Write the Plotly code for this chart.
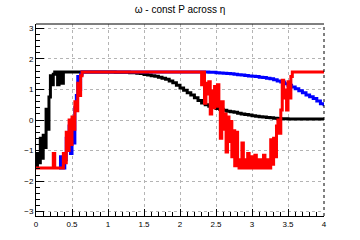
import plotly.graph_objects as go

# ---- data (bin left edges / values) ----
black_x = [0.00, 0.02, 0.04, 0.06, 0.08, 0.10, 0.12, 0.14, 0.16, 0.18, 0.20, 0.22, 0.24, 0.26,
           0.28, 0.30, 0.32, 0.36, 0.38,
           1.00, 1.10, 1.20, 1.30, 1.40, 1.45, 1.50, 1.55, 1.60, 1.65, 1.70, 1.75, 1.80, 1.85,
           1.90, 1.95, 2.00, 2.05, 2.10, 2.15, 2.20, 2.25, 2.30, 2.35, 2.40, 2.45, 2.50, 2.55,
           2.60, 2.65, 2.70, 2.75, 2.80, 2.85, 2.90, 2.95, 3.00, 3.05, 3.10, 3.15, 3.20, 3.25,
           3.30, 3.35, 3.40, 3.50, 4.00]
black_y = [-1.50, -1.10, -1.40, -0.60, -1.25, -0.50, -0.90, 0.35, -0.30, 0.75, 1.45, 1.15, 1.50, 1.57,
           1.5708, 1.15, 1.5708, 1.20, 1.5708,
           1.5708, 1.565, 1.56, 1.55, 1.53, 1.52, 1.49, 1.47, 1.45, 1.43, 1.40, 1.37, 1.33, 1.28,
           1.22, 1.14, 1.05, 0.97, 0.89, 0.82, 0.73, 0.64, 0.56, 0.50, 0.45, 0.41, 0.38, 0.35,
           0.32, 0.29, 0.27, 0.25, 0.22, 0.20, 0.18, 0.16, 0.14, 0.12, 0.11, 0.095, 0.085, 0.075,
           0.06, 0.05, 0.04, 0.035, 0.035]

blue_x = [0.32, 0.34, 0.36, 0.40, 0.42, 0.44, 0.46, 0.48, 0.50, 0.52, 0.54, 0.56, 0.58, 0.60,
          0.62, 0.64,
          2.30, 2.35, 2.40, 2.45, 2.50, 2.55, 2.60, 2.65, 2.70, 2.75, 2.80, 2.85, 2.90, 2.95,
          3.00, 3.05, 3.10, 3.15, 3.20, 3.25, 3.30, 3.35, 3.40, 3.45, 3.50, 3.55, 3.60, 3.65,
          3.70, 3.75, 3.80, 3.85, 3.90, 3.95, 4.00]
blue_y = [-1.5708, -1.20, -1.5708, -1.30, -0.60, -0.90, -0.20, -1.10, 0.00, -0.75, 0.40, 0.80,
          1.42, 1.00, 1.50, 1.5708,
          1.5708, 1.57, 1.565, 1.56, 1.55, 1.54, 1.53, 1.52, 1.51, 1.50, 1.48, 1.47, 1.46, 1.44,
          1.43, 1.42, 1.40, 1.39, 1.37, 1.35, 1.32, 1.28, 1.24, 1.19, 1.14, 1.08, 1.02, 0.96,
          0.89, 0.82, 0.76, 0.70, 0.62, 0.53, 0.45]

red_x = [0.00, 0.24, 0.26, 0.38, 0.40, 0.42, 0.44, 0.46, 0.48, 0.50, 0.52, 0.54, 0.56, 0.58,
         0.60, 0.62, 0.64,
         2.30, 2.32, 2.34, 2.36, 2.38, 2.40, 2.42, 2.44, 2.46, 2.48, 2.50, 2.52, 2.54, 2.56,
         2.58, 2.60, 2.62, 2.64, 2.66, 2.68, 2.70, 2.72, 2.74, 2.76, 2.78, 2.80, 2.82, 2.86,
         2.88, 2.90, 2.92, 2.94, 2.96, 3.00, 3.02, 3.04, 3.06, 3.10, 3.12, 3.16, 3.18, 3.20,
         3.22, 3.26, 3.28, 3.30, 3.32, 3.34, 3.36, 3.38, 3.40, 3.42, 3.44, 3.46, 3.48, 3.50,
         3.52, 3.54, 3.56, 4.00]
red_y = [-1.5708, -1.10, -1.5708, -1.10, -1.40, -0.40, -1.00, 0.00, -0.80, 0.10, -0.30, 0.60,
         0.30, 1.20, 0.80, 1.45, 1.5708,
         1.15, 1.5708, 0.55, 1.20, 0.85, 1.25, 0.20, 0.95, 0.40, 1.10, 0.45, 1.15, 0.60, -0.60,
         0.60, -0.30, 0.20, -1.05, 0.10, -0.70, -0.05, -1.20, -0.35, -1.50, -0.40, -1.30, -1.5708, -0.75,
         -1.5708, -1.30, -1.5708, -1.10, -1.5708, -1.20, -1.5708, -1.15, -1.5708, -1.30, -1.5708, -1.15, -1.5708, -1.30,
         -1.5708, -0.65, -1.45, -0.60, -1.20, -0.20, 0.00, -0.43, 0.33, 1.30, 0.72, 0.98, 0.33, 1.25,
         0.72, 1.42, 1.5708, 1.5708]

series = [(black_x, black_y, "black"), (blue_x, blue_y, "#0000ff"), (red_x, red_y, "#ff0000")]

fig = go.Figure()
for xs, ys, col in series:
    fig.add_trace(go.Scatter(x=xs, y=ys, mode="lines",
                             line=dict(color=col, width=3, shape="hv"),
                             showlegend=False, hoverinfo="skip"))

FONT = "Liberation Sans, Arial, Helvetica, sans-serif"
fig.update_layout(
    width=360, height=240,
    margin=dict(l=36, r=36, t=24, b=24, pad=0),
    paper_bgcolor="white", plot_bgcolor="white",
    font=dict(family=FONT, size=8, color="black"),
    title=dict(text="ω - const P across η", x=0.5, xanchor="center",
               y=1 - 9 / 240, yanchor="middle", font=dict(size=10, family=FONT, color="black")),
)
fig.update_xaxes(range=[0, 4], tick0=0, dtick=0.5, ticks="inside", ticklen=7,
                 tickcolor="black", tickwidth=1, showline=True, linecolor="black",
                 linewidth=1, mirror=False, showgrid=True, gridcolor="#b4b4b4",
                 griddash="dot", gridwidth=1, zeroline=False,
                 minor=dict(dtick=0.1, ticks="inside", ticklen=4, tickcolor="black", showgrid=False))
fig.update_yaxes(range=[-3.1416, 3.1416], tick0=0, dtick=1, ticks="inside", ticklen=8,
                 tickcolor="black", tickwidth=1, showline=True, linecolor="black",
                 linewidth=1, mirror=False, showgrid=True, gridcolor="#b4b4b4",
                 griddash="dot", gridwidth=1, zeroline=False,
                 minor=dict(dtick=0.2, ticks="inside", ticklen=4, tickcolor="black", showgrid=False))
# frame: solid top, dotted right
fig.add_shape(type="line", xref="paper", yref="paper", x0=0, x1=1, y0=1, y1=1,
              line=dict(color="black", width=1))
fig.add_shape(type="line", xref="paper", yref="paper", x0=1, x1=1, y0=0, y1=1,
              line=dict(color="black", width=1, dash="dot"))

fig.write_html("out.html")
